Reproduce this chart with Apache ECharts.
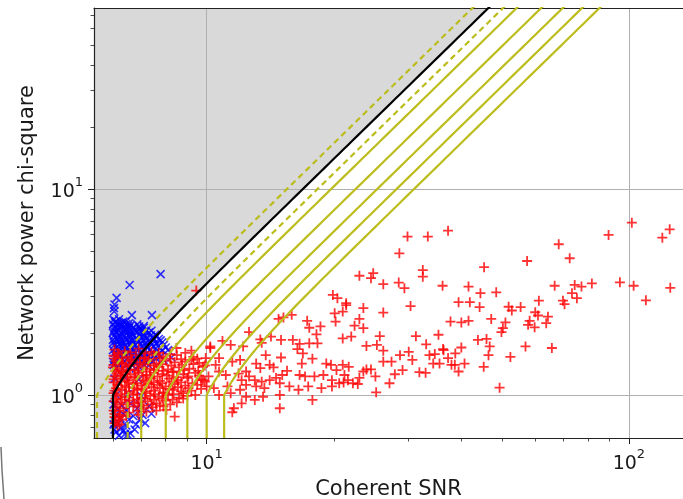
<!DOCTYPE html>
<html><head><meta charset="utf-8">
<script src="https://cdn.jsdelivr.net/npm/echarts@6/dist/echarts.min.js"></script>
<style>html,body{margin:0;padding:0;background:#fff}#c{width:683px;height:499px}</style>
</head><body><div id="c"></div>
<script>
const xRange = [5.41, 134.3];
const yRange = [0.618, 75.6];
const xMajorTicks = [10, 100];
const yMajorTicks = [1, 10];
const xMinorTicks = [6, 7, 8, 9, 20, 30, 40, 50, 60, 70, 80, 90];
const yMinorTicks = [0.7, 0.8, 0.9, 2, 3, 4, 5, 6, 7, 8, 9, 20, 30, 40, 50, 60, 70];
const cutThreshold = 6;
const dashedThresholds = [5.5, 6.5];
const solidThresholds = [7, 8, 9, 10, 11];

const bluePoints = [
[7.78,3.86],[6.57,3.42],[6.12,2.96],[6.04,2.54],[6.65,2.44],[7.42,2.44],[7.10,2.16],[8.25,1.52],[8.1,1.65],[6.05,2.75],[6.03,2.64],
[6.02,2.32],[6.1,2.28],[6.2,2.33],[6.35,2.27],
[6.0,2.2],[6.15,2.22],[6.3,2.18],[6.45,2.21],[6.6,2.17],[6.85,2.2],
[6.05,2.1],[6.22,2.12],[6.4,2.08],[6.55,2.11],[6.75,2.07],[6.95,2.1],[7.2,2.06],
[6.0,2.0],[6.12,2.02],[6.3,1.98],[6.5,2.01],[6.65,1.97],[6.85,2.02],[7.05,1.99],[7.3,2.01],[7.55,1.96],
[6.08,1.9],[6.25,1.92],[6.42,1.88],[6.6,1.91],[6.8,1.89],[7.0,1.92],[7.2,1.88],[7.45,1.9],[7.7,1.87],
[6.02,1.8],[6.18,1.82],[6.35,1.79],[6.55,1.81],[6.72,1.78],[6.9,1.82],[7.15,1.79],[7.35,1.81],[7.6,1.78],[7.85,1.8],
[6.1,1.7],[6.28,1.72],[6.45,1.69],[6.62,1.71],[6.82,1.68],[7.05,1.71],[7.25,1.69],[7.5,1.72],[7.75,1.68],[8.0,1.7],
[6.05,1.6],[6.2,1.62],[6.38,1.59],[6.58,1.61],[6.78,1.6],[6.98,1.62],[7.2,1.59],[7.42,1.61],[7.68,1.58],
[6.12,1.5],[6.3,1.49],[6.5,1.51],[6.7,1.5],[6.92,1.48],[7.12,1.51],[7.35,1.49],[7.6,1.5],[7.9,1.48],
[6.02,1.4],[6.22,1.41],[6.45,1.39],[6.65,1.4],[6.88,1.38],[7.1,1.41],[7.3,1.39],
[6.05,1.2],[6.4,1.22],[6.9,1.19],[6.1,1.0],[6.5,1.01],[7.0,0.99],
[6.02,0.9],[6.3,0.89],[6.6,0.91],[6.95,0.9],[7.3,0.88],
[6.08,0.8],[6.35,0.81],[6.7,0.79],[7.05,0.8],[7.4,0.81],
[6.02,0.72],[6.2,0.73],[6.45,0.71],[6.8,0.72],[7.15,0.73],
[6.1,0.66],[6.35,0.67],[6.6,0.65],[6.2,0.635],[6.5,0.64]
];

const blueExtra = [
[6.07,2.25],[6.27,2.24],[6.42,2.26],[6.55,2.23],
[6.08,2.15],[6.25,2.16],[6.38,2.14],[6.52,2.16],[6.7,2.13],[6.92,2.15],[7.1,2.12],
[6.02,2.05],[6.18,2.06],[6.35,2.04],[6.48,2.06],[6.62,2.03],[6.82,2.05],[7.0,2.04],[7.15,2.02],[7.4,2.05],
[6.05,1.95],[6.2,1.96],[6.38,1.94],[6.55,1.96],[6.72,1.93],[6.95,1.96],[7.12,1.94],[7.38,1.95],[7.62,1.93],
[6.0,1.85],[6.14,1.86],[6.3,1.84],[6.48,1.86],[6.65,1.84],[6.85,1.86],[7.08,1.85],[7.28,1.83],[7.52,1.86],[7.78,1.84],
[6.05,1.75],[6.22,1.76],[6.4,1.74],[6.58,1.76],[6.76,1.74],[6.96,1.76],[7.18,1.74],[7.42,1.76],[7.68,1.73],[7.92,1.75],
[6.0,1.65],[6.15,1.66],[6.32,1.64],[6.5,1.66],[6.7,1.64],[6.9,1.66],[7.12,1.64],[7.35,1.66],[7.6,1.64],[7.85,1.65],
[6.08,1.55],[6.25,1.56],[6.44,1.54],[6.64,1.56],[6.85,1.54],[7.05,1.56],[7.28,1.54],[7.52,1.56],[7.78,1.54],
[6.0,1.45],[6.16,1.46],[6.36,1.44],[6.58,1.46],[6.78,1.44],[7.0,1.46],[7.22,1.44],[7.45,1.46],
[6.1,1.35],[6.32,1.34],[6.55,1.36],[6.8,1.34],
[6.15,0.85],[6.45,0.84],[6.85,0.86],[6.25,0.77],[6.55,0.76],[6.95,0.76],[6.05,0.68],[6.28,0.69],[6.75,0.68],[6.4,0.645]
];

const redDense = [
[6.05,1.66],[6.4,1.63],[6.9,1.68],[7.4,1.62],
[6.02,1.55],[6.2,1.57],[6.5,1.53],[6.8,1.56],[7.1,1.52],[7.5,1.57],[7.9,1.54],[8.5,1.56],[9.3,1.53],
[6.1,1.46],[6.3,1.43],[6.6,1.47],[6.95,1.44],[7.25,1.46],[7.6,1.42],[8.0,1.47],[8.4,1.44],[8.9,1.45],[9.6,1.43],
[6.0,1.36],[6.2,1.34],[6.45,1.37],[6.75,1.33],[7.05,1.36],[7.35,1.34],[7.7,1.37],[8.1,1.33],[8.6,1.36],[9.1,1.34],[9.8,1.37],
[6.12,1.27],[6.35,1.29],[6.6,1.26],[6.9,1.28],[7.2,1.25],[7.5,1.28],[7.85,1.26],[8.3,1.29],[8.8,1.26],[9.4,1.28],
[6.02,1.19],[6.25,1.2],[6.5,1.18],[6.8,1.21],[7.1,1.18],[7.4,1.2],[7.75,1.17],[8.15,1.2],[8.55,1.18],[9.0,1.21],[9.7,1.19],
[6.15,1.12],[6.4,1.11],[6.7,1.13],[7.0,1.11],[7.3,1.13],[7.65,1.12],[8.0,1.1],[8.4,1.13],[8.9,1.11],[9.5,1.12],
[6.05,1.05],[6.3,1.06],[6.55,1.04],[6.85,1.06],[7.15,1.04],[7.5,1.05],[7.9,1.03],[8.3,1.06],[8.7,1.04],[9.2,1.05],
[6.12,0.99],[6.4,0.98],[6.7,1.0],[7.0,0.97],[7.35,0.99],[7.7,0.98],[8.1,1.0],[8.6,0.97],[9.0,0.99],
[6.02,0.93],[6.25,0.92],[6.55,0.94],[6.9,0.92],[7.25,0.93],[7.6,0.91],[8.0,0.94],[8.5,0.92],
[6.1,0.87],[6.35,0.86],[6.7,0.88],[7.1,0.86],[7.45,0.87],[7.9,0.88],
[6.05,0.81],[6.25,0.8],[6.55,0.82],[6.9,0.8],
[6.1,0.75],[6.3,0.76],[6.15,0.71]
];

const redExtra = [
[6.15,1.6],[6.6,1.61],[7.15,1.59],[7.7,1.6],[8.2,1.58],[8.9,1.6],
[6.05,1.5],[6.3,1.51],[6.65,1.49],[6.95,1.5],[7.3,1.49],[7.75,1.51],[8.2,1.5],[8.7,1.49],[9.5,1.5],
[6.02,1.4],[6.35,1.41],[6.55,1.39],[6.85,1.4],[7.15,1.41],[7.5,1.39],[7.85,1.41],[8.25,1.39],[8.75,1.4],[9.3,1.41],[9.9,1.39],
[6.08,1.31],[6.3,1.3],[6.55,1.32],[6.88,1.31],[7.2,1.3],[7.5,1.32],[7.9,1.31],[8.35,1.3],[8.85,1.32],[9.55,1.31],
[6.05,1.23],[6.25,1.24],[6.48,1.22],[6.75,1.23],[7.05,1.24],[7.35,1.22],[7.65,1.23],[8.05,1.24],[8.5,1.22],[9.05,1.23],[9.6,1.24],
[6.02,1.15],[6.28,1.16],[6.55,1.15],[6.85,1.14],[7.18,1.16],[7.5,1.15],[7.85,1.14],[8.25,1.16],[8.7,1.15],[9.25,1.14],[9.9,1.16],
[6.1,1.08],[6.45,1.09],[6.75,1.08],[7.05,1.07],[7.4,1.09],[7.75,1.08],[8.15,1.07],[8.55,1.09],[9.05,1.08],[9.7,1.07],
[6.02,1.02],[6.25,1.01],[6.55,1.02],[6.85,1.01],[7.2,1.02],[7.55,1.01],[7.9,1.02],[8.35,1.01],[8.8,1.02],[9.4,1.0],
[6.08,0.96],[6.3,0.95],[6.55,0.97],[6.85,0.95],[7.15,0.96],[7.5,0.95],[7.85,0.96],[8.3,0.95],[8.8,0.96],
[6.15,0.9],[6.45,0.9],[6.75,0.91],[7.05,0.89],[7.4,0.9],[7.75,0.89],[8.2,0.9],
[6.02,0.84],[6.22,0.84],[6.85,0.84],[7.2,0.83],[7.6,0.84],
[6.05,0.78],[6.2,0.78],[6.45,0.79],
[6.05,0.73],[6.22,0.72]
];

const redSparse = [
[45.4,4.17],[57.4,4.47],[72.4,4.61],[36.2,3.39],[41.7,3.36],[44.5,3.12],[48.5,3.15],[66.7,3.39],[74.4,3.42],[77.2,3.36],
[81.7,3.48],[95.2,3.52],[102.6,3.39],[125.3,3.31],[109.7,2.88],[39.5,2.82],[42.0,2.82],[44.3,2.67],[51.9,2.68],[52.8,2.57],
[55.4,2.67],[61.2,2.87],[69.8,2.87],[70.4,2.76],[73.3,3.12],[75.3,2.95],[60.0,2.52],[60.9,2.43],[64.3,2.40],[47.2,2.34],
[51.0,2.25],[37.8,2.27],[40.1,2.25],[41.7,2.29],[58.2,2.29],[57.7,2.19],[59.8,2.13],[63.7,2.23],[50.3,2.11],[49.9,2.02],
[43.9,1.85],[46.0,1.87],[46.8,1.72],[56.9,1.72],[65.7,1.69],[46.5,1.56],[52.4,1.53],[36.4,1.65],[40.1,1.70],[38.8,1.59],
[37.3,1.51],[38.0,1.40],[38.7,1.40],[39.5,1.30],[40.8,1.42],[45.3,1.37],[35.6,1.42],[49.4,1.085],[37.3,6.27],[68.2,5.39],
[89.5,5.98],[101.6,6.86],[120,5.80],[124.9,6.37],[29.9,5.87],[33.4,5.87],
[28.6,4.87],[23.0,3.79],[24.8,3.90],[24.5,3.69],[26.2,3.45],[28.5,3.51],[29.4,3.30],[32.5,4.04],[32.5,3.75],[30.4,2.70],
[26.2,2.51],[23.5,2.64],[21.4,2.79],[21.0,2.54],[23.0,2.34],[22.4,2.17],[23.5,2.11],[22.0,1.92],[21.0,1.88],[25.7,1.93],
[31.3,1.93],[35.4,1.96],[23.9,1.73],[25.3,1.75],[26.2,1.64],[33.1,1.76],[36.3,1.67],[30.1,1.62],[28.7,1.56],[27.4,1.45],
[26.2,1.45],[30.7,1.48],[33.7,1.56],[34.7,1.58],[34.4,1.42],[31.9,1.29],[33.0,1.28],[29.1,1.32],[27.9,1.26],[27.1,1.14],
[25.1,1.23],[24.5,1.33],[23.9,1.33],[23.5,1.30],[25.2,1.03],[21.7,1.37],[21.0,1.40],[21.2,1.25],[21.6,1.18],[22.2,1.14],
[22.8,1.13],[23.0,1.21],[20.6,1.14],
[19.9,3.06],[20.4,2.95],[21.4,2.73],[20.1,2.49],[20.2,2.27],[15.9,2.45],[15.2,2.38],[14.8,2.34],[17.3,2.29],[17.5,2.12],
[18.6,2.15],[18.2,1.97],[12.6,2.02],[14.2,1.92],[13.4,1.86],[15.0,1.85],[16.0,1.85],[16.6,1.77],[16.4,1.67],[17.5,1.78],
[18.3,1.78],[10.9,1.83],[11.4,1.75],[10.2,1.69],[12.2,1.72],[13.5,1.79],[16.9,1.59],[17.8,1.50],[16.8,1.42],[19.2,1.42],
[19.7,1.40],[20.3,1.32],[13.8,1.56],[15.0,1.52],[14.4,1.36],[15.5,1.31],[15.1,1.25],[16.6,1.25],[17.1,1.23],[18.0,1.23],
[18.9,1.25],[19.8,1.18],[21.1,1.15],[19.8,1.10],[18.7,1.08],[17.4,1.10],[16.5,1.06],[15.7,1.10],[14.9,1.14],[14.6,1.21],
[14.1,1.18],[13.5,1.16],[13.0,1.18],[12.6,1.23],[12.4,1.12],[12.1,1.18],[13.1,1.10],[13.7,1.08],[13.6,0.98],[13.0,0.946],
[14.9,1.0],[14.9,0.862],[17.8,0.946],[12.1,0.911],[11.6,0.862],[11.5,0.824],[12.4,0.98],[12.0,1.48],[11.5,1.45],[10.7,1.51],
[10.5,1.40],[13.1,1.42],[13.4,1.35],[14.1,1.40],[12.4,1.30],[11.9,1.27],[11.1,1.25],[10.7,1.30],[10.1,1.23],[9.8,1.18],
[10.0,1.10],[10.4,1.08],[11.2,1.10],[12.0,1.06],[10.7,1.0],[11.4,1.02],[9.95,1.51],
[9.45,3.21],[8.40,0.785],[8.03,0.846],[9.20,1.64],[8.48,1.69],[9.2,1.48],[10.2,1.72]
];

// threshold contour of the re-weighted SNR: x = T * ((1 + y^3)/2)^(1/6) for y >= 1, vertical below
function contour(T) {
  const pts = [[T, yRange[0]], [T, 1]];
  for (let i = 1; i <= 90; i++) {
    const y = Math.pow(10, i * 0.0225);
    pts.push([T * Math.pow((1 + y * y * y) / 2, 1 / 6), y]);
  }
  return pts;
}
function contourToTop(T) {
  const pts = [[T, yRange[0]], [T, 1]];
  for (let i = 1; i <= 200; i++) {
    let y = Math.pow(10, i * 0.01);
    if (y >= yRange[1]) y = yRange[1];
    pts.push([T * Math.pow((1 + y * y * y) / 2, 1 / 6), y]);
    if (y === yRange[1]) break;
  }
  return pts;
}

const FONT = 'DejaVu Sans';
const YEL = '#bcbd1c';

function supLabel(v) {
  const e = Math.round(Math.log10(v));
  return '{b|10}{s|' + e + '}';
}
const richSup = {
  b: { fontSize: 19, fontFamily: FONT, color: '#1a1a1a', verticalAlign: 'bottom', lineHeight: 26 },
  s: { fontSize: 13, fontFamily: FONT, color: '#1a1a1a', verticalAlign: 'top', lineHeight: 26 }
};

const series = [];
series.push({
  type: 'custom', z: -1, silent: true,
  data: [[xRange[0], yRange[0]]],
  renderItem: function (params, api) {
    const curve = contourToTop(cutThreshold);
    const pts = [api.coord([xRange[0], yRange[1]]), api.coord([xRange[0], yRange[0]])];
    curve.forEach(p => pts.push(api.coord(p)));
    return { type: 'polygon', shape: { points: pts }, style: { fill: '#d9d9d9', stroke: null } };
  }
});
series.push({
  type: 'scatter', data: bluePoints.concat(blueExtra), z: 2, silent: true,
  symbol: 'path://M0,0L10,10M0,10L10,0', symbolSize: 8,
  itemStyle: { color: 'rgba(0,0,0,0)', borderColor: '#0000ff', borderWidth: 1.6 }
});
series.push({
  type: 'scatter', data: redDense.concat(redExtra, redSparse), z: 3, silent: true,
  symbol: 'path://M0,5L10,5M5,0L5,10', symbolSize: 10,
  itemStyle: { color: 'rgba(0,0,0,0)', borderColor: '#ff0000', borderWidth: 1.8 }
});
dashedThresholds.forEach(T => series.push({
  type: 'line', data: contour(T), showSymbol: false, symbol: 'none', silent: true, z: 5,
  lineStyle: { color: YEL, width: 2.2, type: [6, 4] }
}));
solidThresholds.forEach(T => series.push({
  type: 'line', data: contour(T), showSymbol: false, symbol: 'none', silent: true, z: 5,
  lineStyle: { color: YEL, width: 2.2 }
}));
series.push({
  type: 'line', data: contour(cutThreshold), showSymbol: false, symbol: 'none', silent: true, z: 6,
  lineStyle: { color: '#000', width: 2.2 }
});

const chart = echarts.init(document.getElementById('c'), null, { renderer: 'canvas' });
chart.setOption({
  animation: false,
  backgroundColor: '#fff',
  grid: { left: 94, right: 0, top: 8, bottom: 61, containLabel: false, outerBoundsMode: 'none' },
  xAxis: [
    {
      type: 'log', logBase: 10, min: xRange[0], max: xRange[1], position: 'bottom',
      name: 'Coherent SNR', nameLocation: 'middle', nameGap: 37,
      nameTextStyle: { fontFamily: FONT, fontSize: 21, color: '#1a1a1a' },
      axisLine: { show: true, lineStyle: { color: '#222', width: 1.2 } },
      axisTick: { show: true, length: 6, customValues: xMajorTicks, lineStyle: { color: '#222', width: 1 } },
      axisLabel: { customValues: xMajorTicks, margin: 10, formatter: supLabel, rich: richSup },
      splitLine: { show: true, lineStyle: { color: '#b0b0b0', width: 1 } }
    },
    {
      type: 'log', logBase: 10, min: xRange[0], max: xRange[1], position: 'bottom',
      axisLine: { show: false },
      axisTick: { show: true, length: 3.5, customValues: xMinorTicks, lineStyle: { color: '#222', width: 0.8 } },
      axisLabel: { show: false }, splitLine: { show: false }
    },
    {
      type: 'log', logBase: 10, min: xRange[0], max: xRange[1], position: 'top',
      axisLine: { show: true, lineStyle: { color: '#222', width: 1.2 } },
      axisTick: { show: false }, axisLabel: { show: false }, splitLine: { show: false }
    }
  ],
  yAxis: [
    {
      type: 'log', logBase: 10, min: yRange[0], max: yRange[1], position: 'left',
      name: 'Network power chi-square', nameLocation: 'middle', nameGap: 56, nameRotate: 90,
      nameTextStyle: { fontFamily: FONT, fontSize: 21, color: '#1a1a1a' },
      axisLine: { show: true, lineStyle: { color: '#222', width: 1.2 } },
      axisTick: { show: true, length: 6, customValues: yMajorTicks, lineStyle: { color: '#222', width: 1 } },
      axisLabel: { customValues: yMajorTicks, margin: 11, formatter: supLabel, rich: richSup },
      splitLine: { show: true, lineStyle: { color: '#b0b0b0', width: 1 } }
    },
    {
      type: 'log', logBase: 10, min: yRange[0], max: yRange[1], position: 'left',
      axisLine: { show: false },
      axisTick: { show: true, length: 3.5, customValues: yMinorTicks, lineStyle: { color: '#222', width: 0.8 } },
      axisLabel: { show: false }, splitLine: { show: false }
    }
  ],
  series: series,
  graphic: [{
    type: 'polyline', silent: true,
    shape: { points: [[1, 447], [2, 470], [4, 499]] },
    style: { stroke: '#777', lineWidth: 1.5, fill: null }
  }]
});
</script></body></html>
